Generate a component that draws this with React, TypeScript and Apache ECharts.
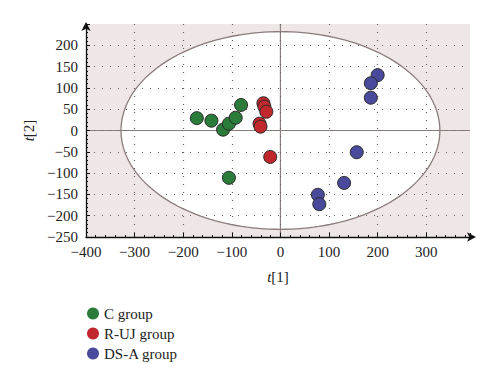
import React, { useEffect, useRef } from "react";
import * as echarts from "echarts";

const groupNames = ["C group", "R-UJ group", "DS-A group"];
const groupColors = ["#2b7b3a", "#c0282d", "#4a4a9c"];
const cGroup = [[-172, 29], [-142, 23], [-118, 2], [-106, 16], [-92, 30], [-81, 60], [-106, -111]];
const rujGroup = [[-35, 64], [-33, 56], [-29, 44], [-43, 16], [-41, 9], [-21, -62]];
const dsaGroup = [[200, 130], [186, 111], [186, 77], [157, -51], [131, -123], [77, -151], [80, -173]];
const ellipseRadii = [328, 232];
const xMin = -400, xMax = 390, xStep = 100;
const yMin = -250, yMax = 250, yStep = 50;

const FONT = "'Liberation Serif', 'DejaVu Serif', serif";
const minus = (v: number) => String(v).replace("-", "\u2212");

export default function App() {
  const ref = useRef<HTMLDivElement>(null);
  useEffect(() => {
    if (!ref.current) return;
    const chart = echarts.init(ref.current, undefined, { renderer: "svg" });
    const ellipsePts = (api: any) => {
      const pts: number[][] = [];
      for (let i = 0; i <= 180; i++) {
        const t = (i / 180) * Math.PI * 2;
        pts.push(api.coord([ellipseRadii[0] * Math.cos(t), ellipseRadii[1] * Math.sin(t)]));
      }
      return pts;
    };
    const bg = {
      type: "custom",
      silent: true,
      z: -10,
      data: [[0, 0]],
      renderItem: (params: any, api: any) => {
        const cs = params.coordSys;
        const o = api.coord([0, 0]);
        return {
          type: "group",
          children: [
            { type: "rect", shape: { x: cs.x, y: cs.y, width: cs.width, height: cs.height }, style: { fill: "#efe7e7" } },
            { type: "polygon", shape: { points: ellipsePts(api) }, style: { fill: "#ffffff", stroke: "none" } },
            { type: "line", shape: { x1: cs.x, y1: o[1], x2: cs.x + cs.width, y2: o[1] }, style: { stroke: "#8c7c7c", lineWidth: 1.2 } },
            { type: "line", shape: { x1: o[0], y1: cs.y, x2: o[0], y2: cs.y + cs.height }, style: { stroke: "#8c7c7c", lineWidth: 1.2 } },
          ],
        };
      },
    };
    const outline = {
      type: "custom",
      silent: true,
      z: 1,
      data: [[0, 0]],
      renderItem: (_params: any, api: any) => ({
        type: "polygon",
        shape: { points: ellipsePts(api) },
        style: { fill: "none", stroke: "#8c7c7c", lineWidth: 1.3 },
      }),
    };
    const sets = [cGroup, rujGroup, dsaGroup];
    const scatters = sets.map((d, i) => ({
      type: "scatter",
      name: groupNames[i],
      data: d,
      symbolSize: 13,
      z: 3,
      itemStyle: { color: groupColors[i], borderColor: "#2a2a2a", borderWidth: 1, opacity: 1 },
    }));
    const rich = { i: { fontStyle: "italic", fontFamily: FONT, fontSize: 15, color: "#222" } };
    chart.setOption({
      animation: false,
      textStyle: { fontFamily: FONT },
      grid: { left: 86, right: 30, top: 24, bottom: 149 },
      legend: {
        orient: "vertical",
        left: 82,
        top: 301,
        icon: "circle",
        itemWidth: 12,
        itemHeight: 12,
        itemGap: 5,
        itemStyle: { borderWidth: 0 },
        textStyle: { fontFamily: FONT, fontSize: 15, color: "#222" },
        data: groupNames,
      },
      xAxis: {
        type: "value",
        min: xMin,
        max: xMax,
        interval: xStep,
        name: "{i|t}[1]",
        nameLocation: "middle",
        nameGap: 32,
        nameTextStyle: { fontFamily: FONT, fontSize: 15, color: "#222", rich },
        axisLine: { onZero: false, lineStyle: { color: "#111", width: 1.3 }, symbol: ["none", "arrow"], symbolSize: [7, 9], symbolOffset: [0, 6] },
        axisTick: { inside: true, length: 4, lineStyle: { color: "#111" } },
        minorTick: { show: true, splitNumber: 5, length: 2, lineStyle: { color: "#111" } },
        axisLabel: { fontFamily: FONT, fontSize: 15, color: "#222", margin: 7, formatter: (v: number) => (v > 300 ? "" : minus(v)) },
        splitLine: { show: true, showMinLine: false, showMaxLine: false, lineStyle: { color: "#666", type: [1, 7], width: 1.2 } },
      },
      yAxis: {
        type: "value",
        min: yMin,
        max: yMax,
        interval: yStep,
        name: "{i|t}[2]",
        nameLocation: "middle",
        nameGap: 50,
        nameTextStyle: { fontFamily: FONT, fontSize: 15, color: "#222", rich },
        axisLine: { onZero: false, lineStyle: { color: "#111", width: 1.3 }, symbol: ["none", "arrow"], symbolSize: [7, 9], symbolOffset: [0, 2] },
        axisTick: { inside: true, length: 4, lineStyle: { color: "#111" } },
        minorTick: { show: true, splitNumber: 5, length: 2, lineStyle: { color: "#111" } },
        axisLabel: { fontFamily: FONT, fontSize: 15, color: "#222", margin: 8, formatter: (v: number) => (v >= 250 ? "" : minus(v)) },
        splitLine: { show: true, showMinLine: false, showMaxLine: false, lineStyle: { color: "#666", type: [1, 7], width: 1.2 } },
      },
      series: [bg, outline, ...scatters],
    });
    return () => chart.dispose();
  }, []);
  return <div ref={ref} style={{ width: 500, height: 386, margin: -8 }} />;
}
